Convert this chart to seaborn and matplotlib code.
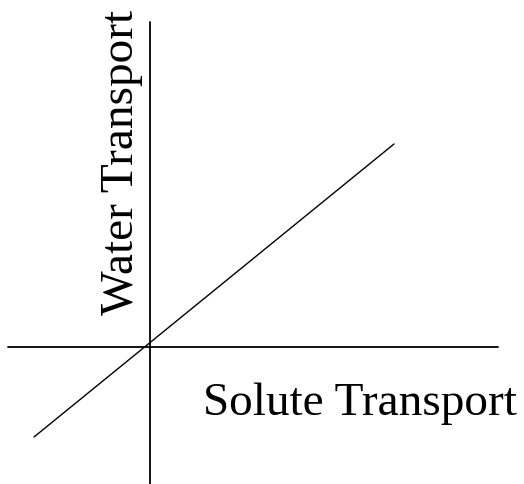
import matplotlib
matplotlib.use("Agg")
import matplotlib.pyplot as plt
import seaborn as sns

# diagram lines in pixel space (y grows downward)
axis_x = [8, 498]
axis_y = [347, 347]
axis_v_x = [150, 150]
axis_v_y = [22, 484]
diag_x = [34, 394]
diag_y = [437, 144]

x_label = "Solute Transport"
y_label = "Water Transport"

sns.set_style("white")
plt.rcParams['font.family'] = ['Liberation Serif', 'DejaVu Serif']

fig = plt.figure(figsize=(5.24, 4.84), dpi=100)
ax = fig.add_axes([0, 0, 1, 1])

sns.lineplot(x=axis_x, y=axis_y, ax=ax, color='black', linewidth=1.3,
             estimator=None, sort=False)
sns.lineplot(x=axis_v_x, y=axis_v_y, ax=ax, color='black', linewidth=1.3,
             estimator=None, sort=False)
sns.lineplot(x=diag_x, y=diag_y, ax=ax, color='black', linewidth=1.0,
             estimator=None, sort=False)

ax.text(203, 415, x_label, fontsize=34, color='black', ha='left', va='baseline')
ax.text(133, 162, y_label, fontsize=34, color='black', rotation=90,
        rotation_mode='anchor', ha='center', va='baseline')

ax.set_xlim(0, 524)
ax.set_ylim(484, 0)
ax.axis('off')

fig.savefig("out.png", dpi=100)
